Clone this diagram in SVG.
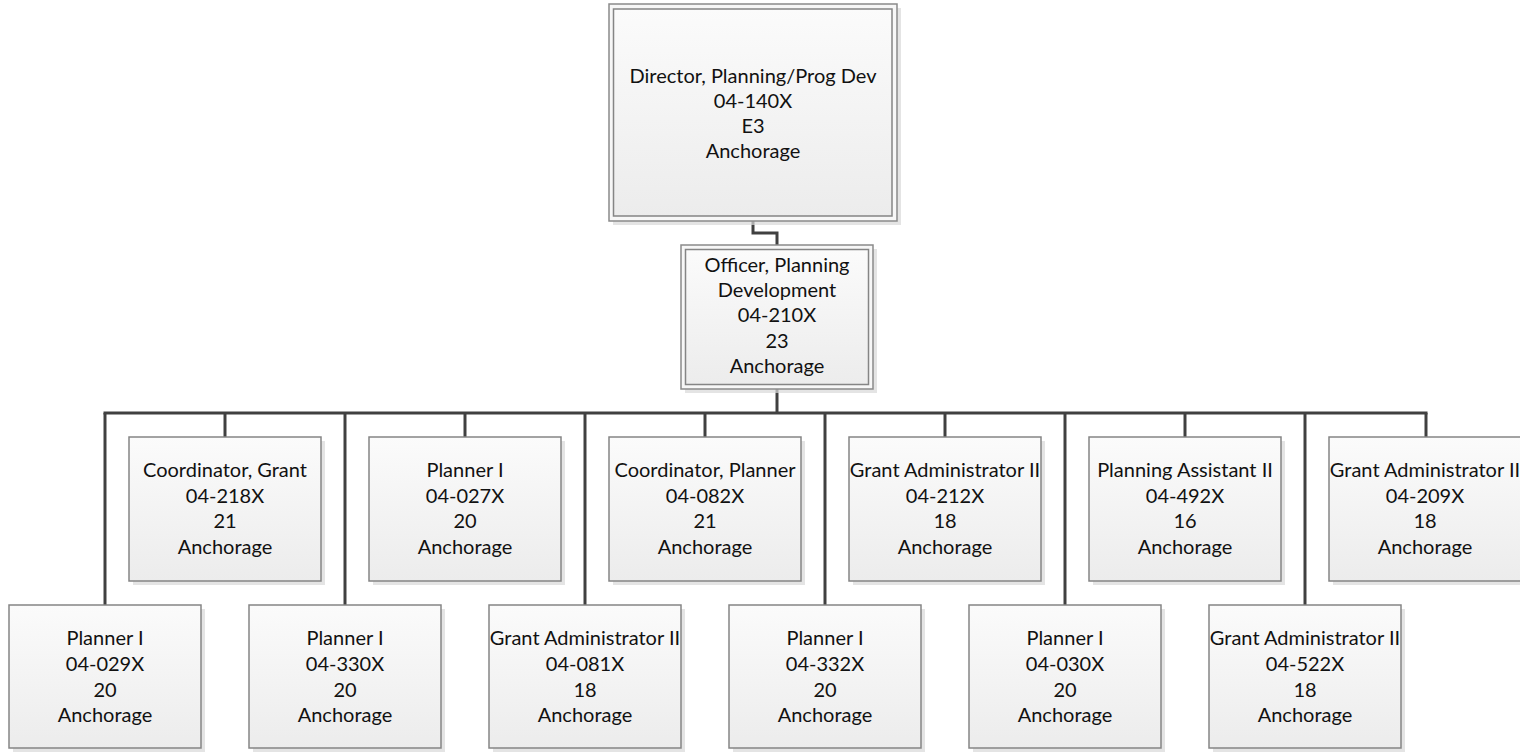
<svg xmlns="http://www.w3.org/2000/svg" width="1520" height="752" viewBox="0 0 1520 752">
<defs>
<linearGradient id="g" x1="0" y1="0" x2="0" y2="1">
<stop offset="0" stop-color="#fbfbfb"/>
<stop offset="1" stop-color="#ececec"/>
</linearGradient>
<style>
.box{fill:url(#g);stroke:#858585;stroke-width:1.5}
.outer{fill:#f7f7f7;stroke:#8a8a8a;stroke-width:1.5}
.sh{fill:#d9d9d9;opacity:0.7}
.t{font-family:Lato,"Open Sans",sans-serif;font-size:20px;fill:#111;text-anchor:middle}
.c{fill:none;stroke:#404040;stroke-width:3}
</style>
</defs>
<rect width="1520" height="752" fill="#fff"/>
<g id="connectors">
<polyline class="c" points="753,221 753,233 777,233 777,245"/>
<line class="c" x1="777" y1="389" x2="777" y2="413"/>
<line class="c" x1="103.5" y1="413" x2="1427.5" y2="413"/>
<line class="c" x1="225" y1="413" x2="225" y2="437"/>
<line class="c" x1="465" y1="413" x2="465" y2="437"/>
<line class="c" x1="705" y1="413" x2="705" y2="437"/>
<line class="c" x1="945" y1="413" x2="945" y2="437"/>
<line class="c" x1="1185" y1="413" x2="1185" y2="437"/>
<line class="c" x1="1426" y1="413" x2="1426" y2="437"/>
<line class="c" x1="105" y1="413" x2="105" y2="605"/>
<line class="c" x1="345" y1="413" x2="345" y2="605"/>
<line class="c" x1="585" y1="413" x2="585" y2="605"/>
<line class="c" x1="825" y1="413" x2="825" y2="605"/>
<line class="c" x1="1065" y1="413" x2="1065" y2="605"/>
<line class="c" x1="1305" y1="413" x2="1305" y2="605"/>
</g>
<g id="director">
<rect class="sh" x="613" y="8" width="288" height="217"/>
<rect class="outer" x="609" y="4" width="288" height="217"/>
<rect class="box" x="613.5" y="9" width="278.5" height="207"/>
<text class="t" x="753" y="83">Director, Planning/Prog Dev</text>
<text class="t" x="753" y="108">04-140X</text>
<text class="t" x="753" y="133">E3</text>
<text class="t" x="753" y="158">Anchorage</text>
</g>
<g id="officer">
<rect class="sh" x="685" y="249" width="192" height="144"/>
<rect class="outer" x="681" y="245" width="192" height="144"/>
<rect class="box" x="685.5" y="249.5" width="183" height="135"/>
<text class="t" x="777" y="272">Officer, Planning</text>
<text class="t" x="777" y="297">Development</text>
<text class="t" x="777" y="322">04-210X</text>
<text class="t" x="777" y="348">23</text>
<text class="t" x="777" y="373">Anchorage</text>
</g>
<g id="u1">
<rect class="sh" x="133" y="441" width="192" height="144"/>
<rect class="box" x="129" y="437" width="192" height="144"/>
<text class="t" x="225" y="477">Coordinator, Grant</text>
<text class="t" x="225" y="502.5">04-218X</text>
<text class="t" x="225" y="528">21</text>
<text class="t" x="225" y="553.5">Anchorage</text>
</g>
<g id="u2">
<rect class="sh" x="373" y="441" width="192" height="144"/>
<rect class="box" x="369" y="437" width="192" height="144"/>
<text class="t" x="465" y="477">Planner I</text>
<text class="t" x="465" y="502.5">04-027X</text>
<text class="t" x="465" y="528">20</text>
<text class="t" x="465" y="553.5">Anchorage</text>
</g>
<g id="u3">
<rect class="sh" x="613" y="441" width="192" height="144"/>
<rect class="box" x="609" y="437" width="192" height="144"/>
<text class="t" x="705" y="477">Coordinator, Planner</text>
<text class="t" x="705" y="502.5">04-082X</text>
<text class="t" x="705" y="528">21</text>
<text class="t" x="705" y="553.5">Anchorage</text>
</g>
<g id="u4">
<rect class="sh" x="853" y="441" width="192" height="144"/>
<rect class="box" x="849" y="437" width="192" height="144"/>
<text class="t" x="945" y="477">Grant Administrator II</text>
<text class="t" x="945" y="502.5">04-212X</text>
<text class="t" x="945" y="528">18</text>
<text class="t" x="945" y="553.5">Anchorage</text>
</g>
<g id="u5">
<rect class="sh" x="1093" y="441" width="192" height="144"/>
<rect class="box" x="1089" y="437" width="192" height="144"/>
<text class="t" x="1185" y="477">Planning Assistant II</text>
<text class="t" x="1185" y="502.5">04-492X</text>
<text class="t" x="1185" y="528">16</text>
<text class="t" x="1185" y="553.5">Anchorage</text>
</g>
<g id="u6">
<rect class="sh" x="1333" y="441" width="192" height="144"/>
<rect class="box" x="1329" y="437" width="192" height="144"/>
<text class="t" x="1425" y="477">Grant Administrator II</text>
<text class="t" x="1425" y="502.5">04-209X</text>
<text class="t" x="1425" y="528">18</text>
<text class="t" x="1425" y="553.5">Anchorage</text>
</g>
<g id="l1">
<rect class="sh" x="13" y="609" width="192" height="143"/>
<rect class="box" x="9" y="605" width="192" height="143"/>
<text class="t" x="105" y="644.5">Planner I</text>
<text class="t" x="105" y="670.5">04-029X</text>
<text class="t" x="105" y="696.5">20</text>
<text class="t" x="105" y="722">Anchorage</text>
</g>
<g id="l2">
<rect class="sh" x="253" y="609" width="192" height="143"/>
<rect class="box" x="249" y="605" width="192" height="143"/>
<text class="t" x="345" y="644.5">Planner I</text>
<text class="t" x="345" y="670.5">04-330X</text>
<text class="t" x="345" y="696.5">20</text>
<text class="t" x="345" y="722">Anchorage</text>
</g>
<g id="l3">
<rect class="sh" x="493" y="609" width="192" height="143"/>
<rect class="box" x="489" y="605" width="192" height="143"/>
<text class="t" x="585" y="644.5">Grant Administrator II</text>
<text class="t" x="585" y="670.5">04-081X</text>
<text class="t" x="585" y="696.5">18</text>
<text class="t" x="585" y="722">Anchorage</text>
</g>
<g id="l4">
<rect class="sh" x="733" y="609" width="192" height="143"/>
<rect class="box" x="729" y="605" width="192" height="143"/>
<text class="t" x="825" y="644.5">Planner I</text>
<text class="t" x="825" y="670.5">04-332X</text>
<text class="t" x="825" y="696.5">20</text>
<text class="t" x="825" y="722">Anchorage</text>
</g>
<g id="l5">
<rect class="sh" x="973" y="609" width="192" height="143"/>
<rect class="box" x="969" y="605" width="192" height="143"/>
<text class="t" x="1065" y="644.5">Planner I</text>
<text class="t" x="1065" y="670.5">04-030X</text>
<text class="t" x="1065" y="696.5">20</text>
<text class="t" x="1065" y="722">Anchorage</text>
</g>
<g id="l6">
<rect class="sh" x="1213" y="609" width="192" height="143"/>
<rect class="box" x="1209" y="605" width="192" height="143"/>
<text class="t" x="1305" y="644.5">Grant Administrator II</text>
<text class="t" x="1305" y="670.5">04-522X</text>
<text class="t" x="1305" y="696.5">18</text>
<text class="t" x="1305" y="722">Anchorage</text>
</g>
</svg>
